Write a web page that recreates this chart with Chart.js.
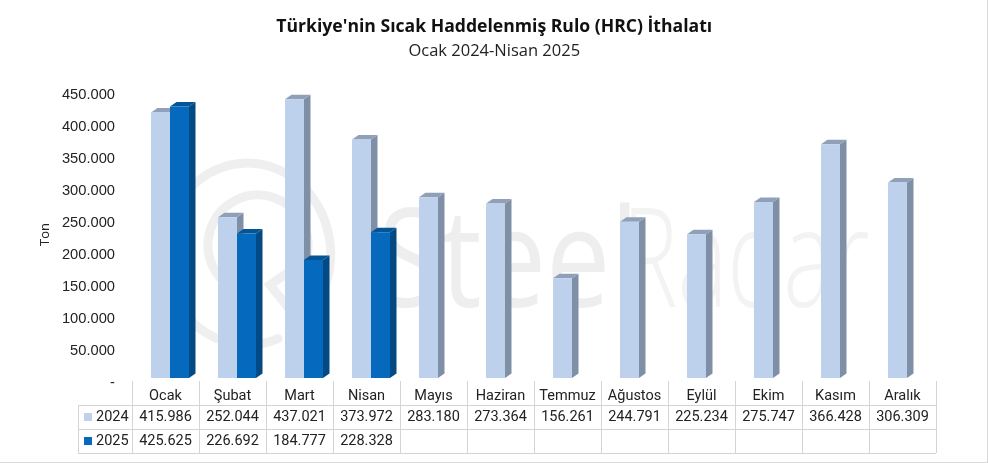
<!DOCTYPE html>
<html>
<head>
<meta charset="utf-8">
<title>HRC İthalatı</title>
<script src="https://cdn.jsdelivr.net/npm/chart.js@4"></script>
<style>
  html, body { margin: 0; padding: 0; background: #fff; overflow: hidden; }
  canvas { display: block; }
</style>
</head>
<body>
<canvas id="hrcChart" width="988" height="463"></canvas>
<script>
const months = ["Ocak", "Şubat", "Mart", "Nisan", "Mayıs", "Haziran", "Temmuz", "Ağustos", "Eylül", "Ekim", "Kasım", "Aralık"];
const values2024 = [415986, 252044, 437021, 373972, 283180, 273364, 156261, 244791, 225234, 275747, 366428, 306309];
const values2025 = [425625, 226692, 184777, 228328, null, null, null, null, null, null, null, null];
const yTicks = [0, 50000, 100000, 150000, 200000, 250000, 300000, 350000, 400000, 450000];
const yTickLabels = ["-", "50.000", "100.000", "150.000", "200.000", "250.000", "300.000", "350.000", "400.000", "450.000"];

const FONT = "'Open Sans', 'Noto Sans', sans-serif";
const TABLE_FONT = "14.5px Roboto, sans-serif";
const depthX = 6.5;
const depthY = 4.5;

function fmt(v) {
    return v === null ? "" : v.toLocaleString("de-DE");
}

// title and subtitle are centred a bit right of the plot's padding box
const titleShift = {
    id: "titleShift",
    afterLayout(chart) {
        chart.boxes.filter(b => b.position === "top").forEach(b => {
            b.left += 5.5;
            b.right += 5.5;
        });
    }
};

// extruded look: side and top faces go under all the bar fronts
const barDepth = {
    id: "barDepth",
    beforeDatasetsDraw(chart) {
        const ctx = chart.ctx;
        chart.data.datasets.forEach((ds, d) => {
            chart.getDatasetMeta(d).data.forEach((bar, i) => {
                if (ds.data[i] === null) return;
                const r = bar.x + bar.width / 2;
                const l = bar.x - bar.width / 2;
                ctx.fillStyle = ds.sideColor;
                ctx.beginPath();
                ctx.moveTo(r, bar.base);
                ctx.lineTo(r + depthX, bar.base - depthY);
                ctx.lineTo(r + depthX, bar.y - depthY);
                ctx.lineTo(r, bar.y);
                ctx.closePath();
                ctx.fill();
                ctx.fillStyle = ds.topColor;
                ctx.beginPath();
                ctx.moveTo(l, bar.y);
                ctx.lineTo(l + depthX, bar.y - depthY);
                ctx.lineTo(r + depthX, bar.y - depthY);
                ctx.lineTo(r, bar.y);
                ctx.closePath();
                ctx.fill();
            });
        });
    }
};

// faint logo behind the bars
const watermark = {
    id: "watermark",
    beforeDatasetsDraw(chart) {
        const ctx = chart.ctx;
        ctx.save();
        ctx.strokeStyle = "#efefef";
        ctx.lineWidth = 9;
        ctx.lineCap = "round";
        ctx.beginPath();
        ctx.ellipse(247.5, 254, 83, 91, 0, Math.PI * 0.38, Math.PI * 2.12);
        ctx.stroke();
        ctx.beginPath();
        ctx.arc(258, 245, 50, Math.PI * 0.6, Math.PI * 2.1);
        ctx.lineTo(270, 285);
        ctx.lineTo(323, 350);
        ctx.stroke();

        ctx.textBaseline = "alphabetic";
        ctx.textAlign = "left";
        ctx.save();
        ctx.translate(378, 307);
        ctx.scale(0.83, 1);
        ctx.font = "400 138px " + FONT;
        ctx.fillStyle = "#eeeeee";
        ctx.fillText("Steel", 0, 0);
        ctx.restore();
        ctx.translate(622, 307);
        ctx.scale(0.68, 1);
        ctx.font = "300 138px " + FONT;
        ctx.fillStyle = "#f3f3f3";
        ctx.fillText("Radar", 0, 0);
        ctx.restore();
    }
};

// y labels sit a little below the front face level, table sits under the plot
const dataTable = {
    id: "dataTable",
    afterDraw(chart) {
        const ctx = chart.ctx;
        const x = chart.scales.x;
        const y = chart.scales.y;
        const colW = x.width / months.length;
        const left = x.left - 4.5;
        const rowY = [381, 405, 429, 453];
        const keyLeft = 78;
        ctx.save();

        ctx.font = "14.7px 'Liberation Sans', sans-serif";
        ctx.fillStyle = "#222";
        ctx.textAlign = "right";
        ctx.textBaseline = "middle";
        yTicks.forEach((t, i) => ctx.fillText(yTickLabels[i], 115, y.getPixelForValue(t) + 4.5));

        ctx.strokeStyle = "#d4d4d4";
        ctx.lineWidth = 1;
        ctx.beginPath();
        for (let i = 0; i <= months.length; i++) {
            const cx = Math.round(left + i * colW) + 0.5;
            ctx.moveTo(cx, rowY[0]);
            ctx.lineTo(cx, rowY[3]);
        }
        ctx.moveTo(keyLeft + 0.5, rowY[1]);
        ctx.lineTo(keyLeft + 0.5, rowY[3]);
        rowY.slice(1).forEach(ry => {
            ctx.moveTo(keyLeft, ry + 0.5);
            ctx.lineTo(left + months.length * colW, ry + 0.5);
        });
        ctx.stroke();

        ctx.font = TABLE_FONT;
        ctx.textAlign = "center";
        months.forEach((m, i) => {
            const cx = left + (i + 0.5) * colW;
            ctx.fillText(m, cx, 396);
            ctx.fillText(fmt(values2024[i]), cx, 417);
            ctx.fillText(fmt(values2025[i]), cx, 441);
        });

        chart.data.datasets.forEach((ds, i) => {
            const ty = i === 0 ? 417 : 441;
            ctx.fillStyle = ds.backgroundColor;
            ctx.fillRect(84, ty - 4, 8, 8);
            ctx.fillStyle = "#222";
            ctx.textAlign = "left";
            ctx.fillText(ds.label, 96, ty);
        });

        ctx.strokeStyle = "#d9d9d9";
        ctx.strokeRect(-1, -1, 988.5, 463.5);
        ctx.restore();
    }
};

new Chart(document.getElementById("hrcChart"), {
    type: "bar",
    data: {
        labels: months,
        datasets: [
            { label: "2024", data: values2024, backgroundColor: "#bdd0ec", sideColor: "#7f8fa6", topColor: "#8fa0b8" },
            { label: "2025", data: values2025, backgroundColor: "#0569bd", sideColor: "#034a84", topColor: "#045597" }
        ]
    },
    plugins: [titleShift, watermark, barDepth, dataTable],
    options: {
        responsive: false,
        animation: false,
        layout: { padding: { left: 37, right: 47.5, top: 0, bottom: 85 } },
        datasets: { bar: { categoryPercentage: 38 / 67, barPercentage: 1 } },
        plugins: {
            legend: { display: false },
            tooltip: { enabled: false },
            title: {
                display: true,
                text: "Türkiye'nin Sıcak Haddelenmiş Rulo (HRC) İthalatı",
                color: "#111",
                font: { family: FONT, size: 17.6, weight: "bold" },
                padding: { top: 16, bottom: 4 }
            },
            subtitle: {
                display: true,
                text: "Ocak 2024-Nisan 2025",
                color: "#222",
                font: { family: FONT, size: 16.5, weight: "normal" },
                padding: { top: 0, bottom: 30 }
            }
        },
        scales: {
            x: {
                afterFit(scale) {
                    scale.height = 0;
                },
                grid: { display: false },
                border: { display: false },
                ticks: { display: false }
            },
            y: {
                min: 0,
                max: 450000,
                afterBuildTicks(scale) {
                    scale.ticks = yTicks.map(value => ({ value }));
                },
                afterFit(scale) {
                    scale.width = 99.5;
                },
                grid: { display: false },
                border: { display: false },
                ticks: { display: false },
                title: {
                    display: true,
                    text: "Ton",
                    color: "#222",
                    font: { family: FONT, size: 13 },
                    padding: { top: 0, bottom: 0 }
                }
            }
        }
    }
});
</script>
</body>
</html>
